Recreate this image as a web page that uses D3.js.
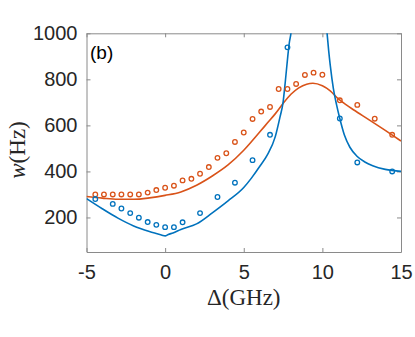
<!DOCTYPE html>
<html>
<head>
<meta charset="utf-8">
<script src="https://cdn.jsdelivr.net/npm/d3@7"></script>
<style>
  html, body { margin: 0; padding: 0; background: #fff; }
  svg { display: block; }
</style>
</head>
<body>
<svg id="chart" width="415" height="337"></svg>
<script>
// ---------- data ----------
const xTicks = [-5, 0, 5, 10, 15];
const yTicks = [200, 400, 600, 800, 1000];

// measured points (circles)
const blueDelta = [-4.44, -3.33, -2.78, -2.22, -1.67, -1.11, -0.56, 0, 0.56, 1.11, 2.22, 3.33, 4.44, 5.56, 6.67, 7.78, 11.11, 12.22, 14.44];
const blueW     = [280, 259, 239, 219, 199, 180, 168, 158, 158, 179, 219, 289, 351, 449, 559, 939, 630, 439, 400];

const orangeDelta = [-4.44, -3.89, -3.33, -2.78, -2.22, -1.67, -1.11, -0.56, 0, 0.56, 1.11, 1.67, 2.22, 2.78, 3.33, 3.89, 4.44, 5.0, 5.56, 6.11, 6.67, 7.22, 7.78, 8.33, 8.89, 9.44, 10.0, 11.11, 12.22, 13.33, 14.44];
const orangeW     = [300, 300, 300, 300, 300, 300, 308, 319, 329, 338, 361, 368, 390, 419, 459, 479, 528, 569, 628, 660, 680, 758, 758, 780, 819, 829, 820, 709, 689, 629, 559];

// theory curves (lines)
const blueFitLeftDelta = [-5, -4, -3, -2, -1, -0.5, -0.2, 0, 0.2, 0.5, 1, 2, 3, 4, 5, 5.5, 6, 6.5, 7, 7.3, 7.5, 7.65, 7.8, 7.9, 8.0, 8.1];
const blueFitLeftW     = [282, 238, 197, 163, 139, 129, 123, 120, 126, 133, 148, 172, 220, 272, 330, 372, 420, 472, 550, 635, 700, 795, 900, 960, 1000, 1070];
const blueFitRightDelta = [10.2, 10.3, 10.4, 10.5, 10.7, 10.9, 11.1, 11.4, 11.75, 12.2, 12.7, 13.2, 14, 15];
const blueFitRightW     = [1070, 1000, 925, 862, 760, 690, 632, 558, 505, 466, 441, 425, 409, 400];

const orangeFitDelta = [-5, -4, -3, -2, -1, 0, 1, 2, 3, 4, 5, 6, 6.5, 7, 7.5, 8, 8.5, 9, 9.4, 10, 10.5, 11, 11.5, 12, 13, 14, 15];
const orangeFitW     = [291, 284, 279, 279, 285, 296, 311, 340, 380, 428, 492, 570, 610, 650, 695, 735, 763, 779, 783, 772, 750, 716, 690, 667, 623, 578, 532];

// ---------- layout ----------
const svg = d3.select("#chart");
const pL = 86.5, pR = 401, pT = 33.3, pB = 252;
const blue = "#0072BD", orange = "#D95319";
const axisColor = "#8a8a8a", textColor = "#262626";

const x = d3.scaleLinear().domain([-5, 15]).range([pL, pR]);
const y = d3.scaleLinear().domain([50, 1000]).range([pB, pT]);

svg.append("defs").append("clipPath").attr("id", "clip")
  .append("rect").attr("x", pL).attr("y", pT).attr("width", pR - pL).attr("height", pB - pT);

// axes
const tickLen = 4;
function styleAxis(g) {
  g.select(".domain").attr("stroke", axisColor).attr("stroke-width", 1);
  g.selectAll(".tick line").attr("stroke", axisColor).attr("stroke-width", 1);
  g.selectAll(".tick text").attr("fill", textColor)
    .style("font-family", "'Liberation Sans', Arial, sans-serif").style("font-size", "20px");
}
svg.append("g").attr("transform", `translate(0,${pB})`)
  .call(d3.axisBottom(x).tickValues(xTicks).tickSizeInner(-tickLen).tickSizeOuter(0).tickPadding(13).tickFormat(d => String(d)))
  .call(styleAxis);
svg.append("g").attr("transform", `translate(0,${pT})`)
  .call(d3.axisTop(x).tickValues(xTicks).tickSizeInner(-tickLen).tickSizeOuter(0).tickFormat(""))
  .call(styleAxis);
svg.append("g").attr("transform", `translate(${pL},0)`)
  .call(d3.axisLeft(y).tickValues(yTicks).tickSizeInner(-tickLen).tickSizeOuter(0).tickPadding(9).tickFormat(d => String(d)))
  .call(styleAxis);
svg.append("g").attr("transform", `translate(${pR},0)`)
  .call(d3.axisRight(y).tickValues(yTicks).tickSizeInner(-tickLen).tickSizeOuter(0).tickFormat(""))
  .call(styleAxis);

// lines
const plot = svg.append("g").attr("clip-path", "url(#clip)");
const line = d3.line().x(d => x(d[0])).y(d => y(d[1])).curve(d3.curveMonotoneX);
const zip = (a, b) => a.map((v, i) => [v, b[i]]);

plot.append("path").datum(zip(orangeFitDelta, orangeFitW))
  .attr("d", line).attr("fill", "none").attr("stroke", orange).attr("stroke-width", 1.6);
plot.append("path").datum(zip(blueFitLeftDelta, blueFitLeftW))
  .attr("d", line).attr("fill", "none").attr("stroke", blue).attr("stroke-width", 1.6);
plot.append("path").datum(zip(blueFitRightDelta, blueFitRightW))
  .attr("d", line).attr("fill", "none").attr("stroke", blue).attr("stroke-width", 1.6);

// markers
plot.selectAll("circle.o").data(zip(orangeDelta, orangeW)).enter().append("circle")
  .attr("class", "o").attr("cx", d => x(d[0])).attr("cy", d => y(d[1])).attr("r", 2.3)
  .attr("fill", "none").attr("stroke", orange).attr("stroke-width", 1.3);
plot.selectAll("circle.b").data(zip(blueDelta, blueW)).enter().append("circle")
  .attr("class", "b").attr("cx", d => x(d[0])).attr("cy", d => y(d[1])).attr("r", 2.3)
  .attr("fill", "none").attr("stroke", blue).attr("stroke-width", 1.3);

// panel label
svg.append("text").attr("x", 90).attr("y", 59).text("(b)")
  .attr("fill", "#000").style("font-family", "'Liberation Sans', Arial, sans-serif").style("font-size", "19px");

// axis labels
const xl = svg.append("text").attr("x", (pL + pR) / 2).attr("y", 305).attr("text-anchor", "middle")
  .attr("fill", textColor).style("font-family", "'Liberation Serif', 'DejaVu Serif', serif").style("font-size", "23px");
xl.append("tspan").text("Δ");
xl.append("tspan").text("(GHz)");

const yl = svg.append("text").attr("transform", `translate(25,150) rotate(-90)`).attr("text-anchor", "middle")
  .attr("fill", textColor).style("font-family", "'Liberation Serif', 'DejaVu Serif', serif").style("font-size", "23px");
yl.append("tspan").text("w").style("font-style", "italic");
yl.append("tspan").text("(Hz)");
</script>
</body>
</html>
